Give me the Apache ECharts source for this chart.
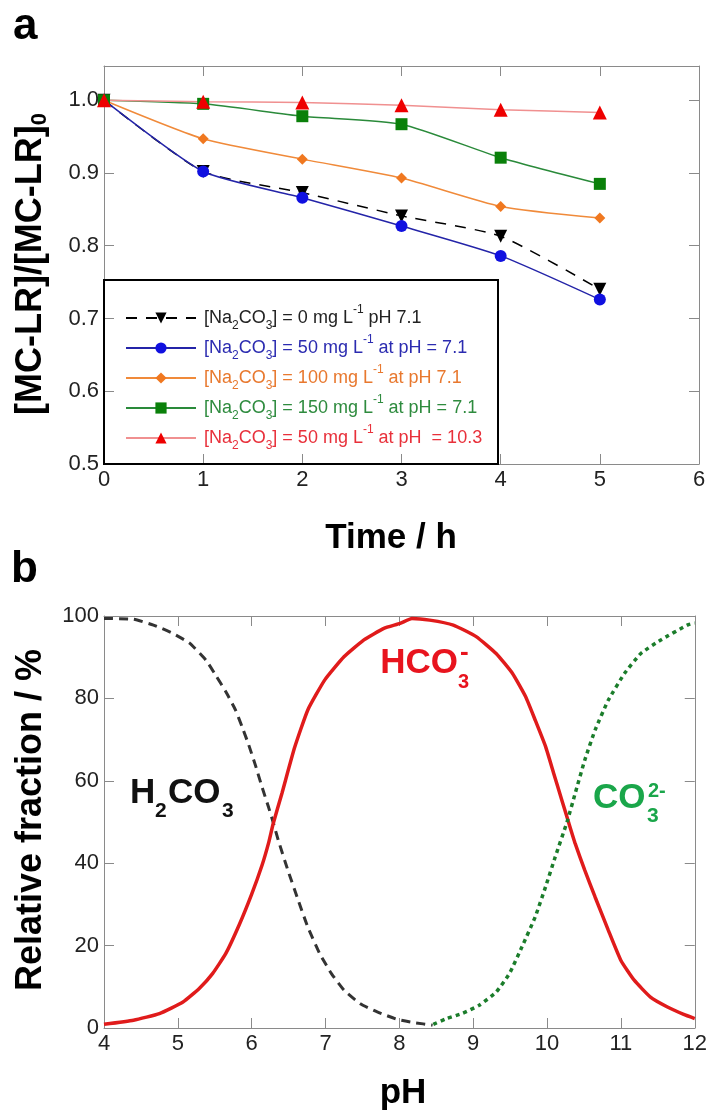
<!DOCTYPE html>
<html>
<head>
<meta charset="utf-8">
<script src="https://cdn.jsdelivr.net/npm/echarts@6/dist/echarts.min.js"></script>
<style>
html, body { margin: 0; padding: 0; background: #fff; }
#main { width: 710px; height: 1111px; }
</style>
</head>
<body>
<div id="main"></div>
<script>
// panel a: MC-LR decay
var timeH = [0, 1, 2, 3, 4, 5];
var na0 = [1.0, 0.902, 0.873, 0.841, 0.813, 0.740];
var na50 = [1.0, 0.902, 0.866, 0.827, 0.786, 0.726];
var na100 = [1.0, 0.947, 0.919, 0.893, 0.854, 0.838];
var na150 = [1.0, 0.995, 0.978, 0.967, 0.921, 0.885];
var na50ph103 = [1.0, 0.998, 0.997, 0.993, 0.987, 0.983];
var seriesNames = ['na0', 'na50', 'na100', 'na150', 'na50ph103'];
var legendTexts = [
    '[Na{sub|2}CO{sub|3}] = 0 mg L{sup|-1} pH 7.1',
    '[Na{sub|2}CO{sub|3}] = 50 mg L{sup|-1} at pH = 7.1',
    '[Na{sub|2}CO{sub|3}] = 100 mg L{sup|-1} at pH 7.1',
    '[Na{sub|2}CO{sub|3}] = 150 mg L{sup|-1} at pH = 7.1',
    '[Na{sub|2}CO{sub|3}] = 50 mg L{sup|-1} at pH  = 10.3'
];

// panel b: carbonate speciation
var h2co3Ph = [4.0, 4.4, 4.67, 4.93, 5.16, 5.38, 5.51, 5.65, 5.78, 5.87, 5.96, 6.05, 6.14, 6.23, 6.29, 6.36, 6.49, 6.63, 6.76, 6.92, 7.08, 7.25, 7.47, 7.70, 7.97, 8.2, 8.45];
var h2co3Val = [99.4, 99.2, 97.8, 95.8, 93.4, 89.3, 85.7, 81.6, 77.2, 73.1, 68.7, 63.8, 58.5, 53.5, 50.0, 45.6, 38.3, 31.0, 24.5, 18.1, 13.2, 9.2, 5.9, 3.9, 2.1, 1.3, 0.7];
var hco3Ph = [4.0, 4.4, 4.75, 5.07, 5.29, 5.47, 5.65, 5.83, 6.0, 6.14, 6.23, 6.29, 6.41, 6.58, 6.76, 6.99, 7.25, 7.52, 7.79, 8.01, 8.17, 8.41, 8.73, 9.04, 9.31, 9.53, 9.71, 9.84, 9.98, 10.09, 10.2, 10.29, 10.38, 10.51, 10.65, 10.83, 11.0, 11.18, 11.4, 11.63, 11.85, 12.0];
var hco3Val = [0.9, 1.9, 3.5, 6.3, 9.6, 13.2, 18.1, 25.0, 32.5, 39.5, 45.0, 49.5, 57.0, 68.0, 77.2, 84.5, 90.1, 94.2, 97.0, 98.2, 99.4, 99.0, 97.8, 95.0, 90.9, 86.1, 80.4, 74.7, 68.3, 61.8, 55.3, 50.0, 44.8, 38.3, 31.8, 23.7, 16.4, 11.6, 7.5, 5.1, 3.3, 2.3];
var co3Ph = [8.46, 8.64, 8.86, 9.08, 9.31, 9.49, 9.66, 9.84, 9.98, 10.11, 10.27, 10.38, 10.51, 10.65, 10.83, 11.05, 11.27, 11.54, 11.9, 12.0];
var co3Val = [0.9, 2.3, 3.6, 5.5, 8.7, 13.2, 19.7, 27.0, 34.3, 41.5, 50.0, 56.9, 65.0, 72.3, 79.6, 86.1, 90.9, 94.2, 97.8, 98.3];

var FONT = 'Liberation Sans, Arial, sans-serif';

function pairs(xs, ys) {
    var out = [];
    for (var i = 0; i < xs.length; i++) out.push([xs[i], ys[i]]);
    return out;
}

function frameAxis(gridIndex, pos, min, max, interval, showLabel, fmt, showMax) {
    var ax = {
        gridIndex: gridIndex, type: 'value', position: pos,
        min: min, max: max, interval: interval,
        axisLine: { show: true, onZero: false, lineStyle: { color: '#8a8a8a', width: 1 } },
        axisTick: { show: true, inside: true, length: 10, lineStyle: { color: '#8a8a8a', width: 1 } },
        splitLine: { show: false },
        axisLabel: { show: showLabel, fontFamily: FONT, fontSize: 22, color: '#222', margin: 5, showMaxLabel: showMax !== false }
    };
    if (fmt) ax.axisLabel.formatter = fmt;
    return ax;
}

function lineSeries(name, data, color, lineColor, symbol, size, rotate, dash) {
    return {
        name: name, type: 'line', xAxisIndex: 0, yAxisIndex: 0,
        data: pairs(timeH, data), smooth: 0.2,
        symbol: symbol, symbolSize: size, symbolRotate: rotate,
        itemStyle: { color: color },
        lineStyle: { color: lineColor, width: 1.5, type: dash || 'solid' },
        z: 3
    };
}

function txt(x, baseline, text, size, color, align) {
    return {
        type: 'text', x: x, y: baseline - 0.345 * size,
        style: { text: text, fontFamily: FONT, fontWeight: 'bold', fontSize: size, fill: color, align: align || 'left', verticalAlign: 'middle' }
    };
}

var chart = echarts.init(document.getElementById('main'));
var legendColors = ['#222222', '#2b2bb0', '#e8782e', '#2e8b3e', '#e8303a'];

var option = {
    animation: false,
    backgroundColor: '#fff',
    grid: [
        { left: 104, right: 11, top: 66, height: 398 },
        { left: 104, right: 9, top: 616, height: 412 }
    ],
    xAxis: [
        frameAxis(0, 'bottom', 0, 6, 1, true),
        frameAxis(0, 'top', 0, 6, 1, false),
        frameAxis(1, 'bottom', 4, 12, 1, true),
        frameAxis(1, 'top', 4, 12, 1, false)
    ],
    yAxis: [
        frameAxis(0, 'left', 0.5, 1.047, 0.1, true, function (v) { return v.toFixed(1); }, false),
        frameAxis(0, 'right', 0.5, 1.047, 0.1, false),
        frameAxis(1, 'left', 0, 100, 20, true),
        frameAxis(1, 'right', 0, 100, 20, false)
    ],
    legend: {
        orient: 'vertical', left: 120, top: 299,
        itemWidth: 70, itemHeight: 14, itemGap: 2,
        selectedMode: false,
        data: seriesNames.map(function (n, i) { return { name: n, textStyle: { color: legendColors[i] } }; }),
        formatter: function (name) { return legendTexts[seriesNames.indexOf(name)]; },
        textStyle: {
            fontFamily: FONT, fontSize: 18, lineHeight: 28, padding: [0, 0, 0, 3],
            rich: {
                sub: { fontFamily: FONT, fontSize: 12, verticalAlign: 'bottom', lineHeight: 10 },
                sup: { fontFamily: FONT, fontSize: 12, verticalAlign: 'top', lineHeight: 14 }
            }
        }
    },
    series: [
        lineSeries('na0', na0, '#000', '#000', 'triangle', 13, 180, [11, 9]),
        lineSeries('na50', na50, '#1010e0', '#2424a8', 'circle', 12, 0),
        lineSeries('na100', na100, '#f07820', '#f08a3a', 'diamond', 11, 0),
        lineSeries('na150', na150, '#0a800a', '#2a8a3a', 'rect', 12, 0),
        lineSeries('na50ph103', na50ph103, '#ee0000', '#f09090', 'triangle', 14, 0),
        {
            name: 'H2CO3', type: 'line', xAxisIndex: 2, yAxisIndex: 2, showSymbol: false, smooth: 0.15,
            data: pairs(h2co3Ph, h2co3Val),
            lineStyle: { color: '#333', width: 3, type: [9, 6] }
        },
        {
            name: 'HCO3', type: 'line', xAxisIndex: 2, yAxisIndex: 2, showSymbol: false, smooth: 0.15,
            data: pairs(hco3Ph, hco3Val),
            lineStyle: { color: '#e01b1b', width: 3.5 }
        },
        {
            name: 'CO3', type: 'line', xAxisIndex: 2, yAxisIndex: 2, showSymbol: false, smooth: 0.15,
            data: pairs(co3Ph, co3Val),
            lineStyle: { color: '#1b7d2b', width: 3.5, type: [4, 4] }
        }
    ],
    graphic: [
        // legend frame
        { type: 'rect', shape: { x: 104, y: 280, width: 394, height: 184 }, style: { fill: 'none', stroke: '#000', lineWidth: 2 }, z: 10 },
        // panel letters
        txt(13, 42, 'a', 44, '#000'),
        txt(11, 585, 'b', 44, '#000'),
        // axis titles
        txt(391, 550, 'Time / h', 35, '#000', 'center'),
        txt(403, 1105, 'pH', 35, '#000', 'center'),
        {
            type: 'text', x: 31, y: 264, rotation: Math.PI / 2,
            style: {
                text: '[MC-LR]/[MC-LR]{sub|0}', fontFamily: FONT, fontWeight: 'bold', fontSize: 36, fill: '#000',
                align: 'center', verticalAlign: 'middle', lineHeight: 40,
                rich: { sub: { fontFamily: FONT, fontWeight: 'bold', fontSize: 22, verticalAlign: 'bottom', lineHeight: 8 } }
            }
        },
        {
            type: 'text', x: 31, y: 820, rotation: Math.PI / 2,
            style: { text: 'Relative fraction / %', fontFamily: FONT, fontWeight: 'bold', fontSize: 36, fill: '#000', align: 'center', verticalAlign: 'middle' }
        },
        // species labels
        txt(130, 805, 'H', 35, '#111'),
        txt(155, 818, '2', 21, '#111'),
        txt(168, 805, 'CO', 35, '#111'),
        txt(222, 818, '3', 21, '#111'),
        txt(458, 675, 'HCO', 35, '#e8141e', 'right'),
        txt(458, 689, '3', 20, '#e8141e'),
        txt(460, 662, '-', 26, '#e8141e'),
        txt(593, 810, 'CO', 35, '#1aa64a'),
        txt(647, 823, '3', 21, '#1aa64a'),
        txt(648, 798, '2-', 20, '#1aa64a')
    ]
};
chart.setOption(option);
</script>
</body>
</html>
